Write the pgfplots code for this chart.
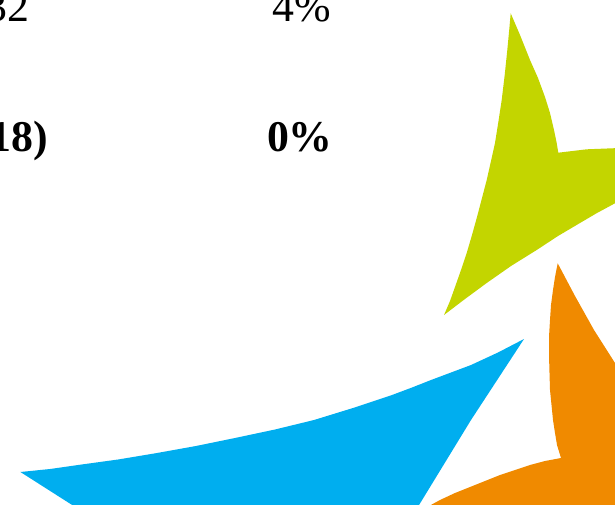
\documentclass[border=0pt]{standalone}
\usepackage{fontspec}
\setmainfont{Liberation Serif}
\usepackage{pgfplots}
\pgfplotsset{compat=1.18}

\definecolor{logogreen}{HTML}{C3D500}
\definecolor{logoorange}{HTML}{F08A00}
\definecolor{logoblue}{HTML}{00AEEF}

\begin{document}
\begin{tikzpicture}
\path[use as bounding box] (0,0) rectangle (615bp,505bp);
\clip (0,0) rectangle (615bp,505bp);
\begin{axis}[
  at={(0,0)}, anchor=south west,
  scale only axis, width=615bp, height=505bp,
  xmin=0, xmax=615, ymin=0, ymax=505,
  y dir=reverse,
  hide axis,
  clip=false,
]
% green shape
\addplot[fill=logogreen, draw=none] coordinates {
(510.7,13.3) (520,35) (530,60) (538,78) (545,97) (550,113) (554,130) (556.5,142) (558.3,152.7)
(586.7,149.3) (620,148)
(620,200) (615,203.3) (597,213) (580,223) (558,236) (536.7,250) (511,266) (486.7,283) (465,299) (444,315)
(450,301) (455,287) (461,270) (466.7,253) (472,235) (477,217) (482,198) (486.7,180) (491,161) (495,143) (498.5,121) (501.7,100) (504.7,75) (507.3,50) (509.2,30)
} --cycle;
% orange shape
\addplot[fill=logoorange, draw=none] coordinates {
(557.7,263.3) (555,277) (553,290) (551,305) (550,320) (549,337) (549,355) (549.5,373) (550,390) (551.5,405) (553,420) (555,433) (557,445) (561,458)
(545,461) (530,465) (515,470) (500,475) (485,481) (470,487) (455,493) (440,500) (429,506)
(620,510) (620,365) (615,363) (594,330) (575,296)
} --cycle;
% blue shape
\addplot[fill=logoblue, draw=none] coordinates {
(20.4,472) (50,469) (78,465) (118,459.5) (157,453) (196,446) (235,438) (275,429.5) (314,420) (353,408) (392,395) (412,387.5) (431,380) (451,372.5) (471,365) (498,352.5) (524,339)
(471,420) (416,510) (80,510)
} --cycle;

\node[inner sep=0pt, anchor=base east, font=\fontsize{44}{50}\selectfont] at (axis cs:30,22) {32};
\node[inner sep=0pt, anchor=base east, font=\fontsize{44}{50}\selectfont] at (axis cs:331,22) {4\%};
\node[inner sep=0pt, anchor=base east, font=\fontsize{44}{50}\selectfont\bfseries] at (axis cs:48,151) {18)};
\node[inner sep=0pt, anchor=base east, font=\fontsize{44}{50}\selectfont\bfseries] at (axis cs:333,151) {0\%};
\end{axis}
\end{tikzpicture}
\end{document}
